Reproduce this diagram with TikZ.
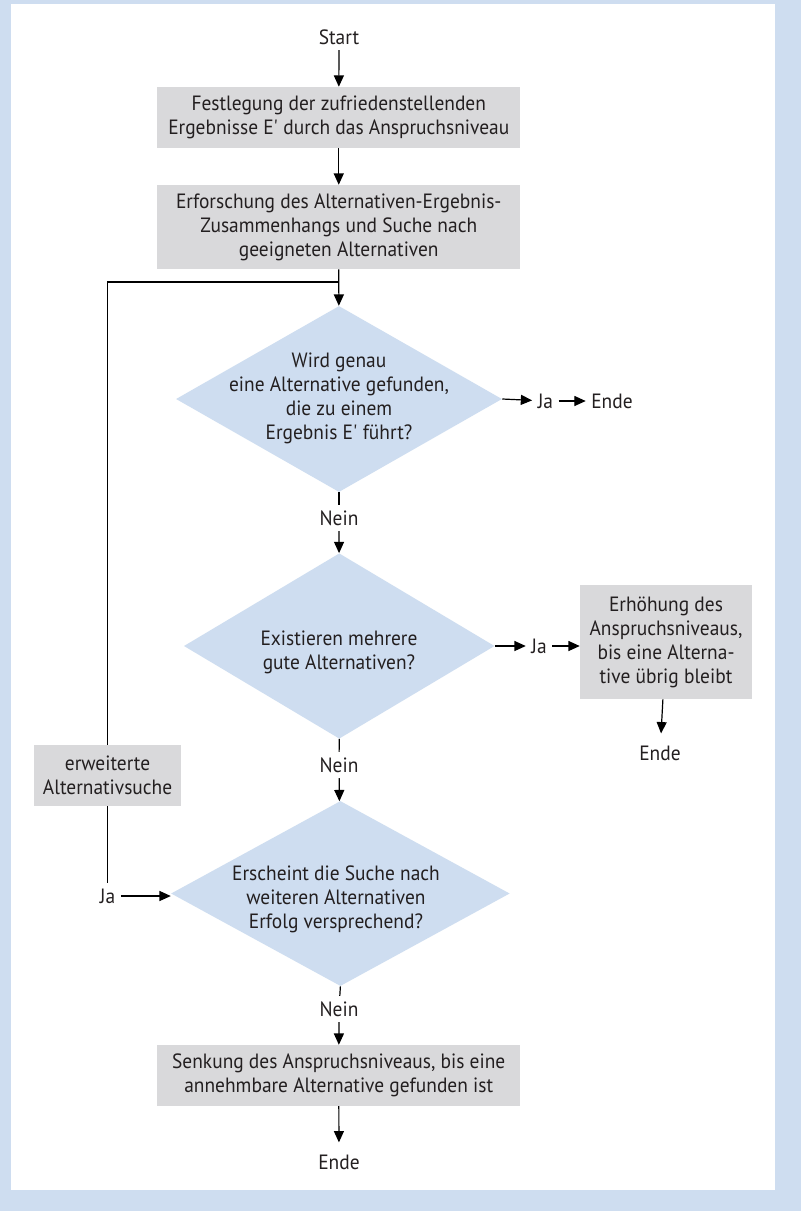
\documentclass[tikz,border=0pt]{standalone}
\usepackage{fontspec}
\setmainfont{PT Sans}[FakeStretch=0.94]
\usetikzlibrary{shapes.geometric,arrows.meta}
\definecolor{bluebg}{RGB}{206,221,240}
\definecolor{boxgray}{RGB}{217,217,219}
\definecolor{txt}{RGB}{35,31,32}
\newcommand{\apos}{\textquotesingle}
\begin{document}
\begin{tikzpicture}[x=0.75pt,y=-0.75pt,
  font=\fontsize{15.5}{18}\selectfont,
  every node/.style={text=txt},
  box/.style={fill=boxgray, inner sep=0pt, align=center},
  decision/.style={diamond, fill=bluebg, inner sep=0pt},
  qtext/.style={align=center, inner sep=0pt},
  lbl/.style={inner sep=4pt},
  ln/.style={line width=0.9pt},
  arr/.style={ln, -{Triangle[length=8.5pt,width=7.5pt]}}]
% background
\fill[bluebg] (0,0) rectangle (801,1211);
\fill[white] (11,3.5) rectangle (775,1190);
\useasboundingbox (0,0) rectangle (801,1211);
% nodes
\node[lbl] (start) at (339,37) {Start};
\node[box, minimum width=272.6pt, minimum height=45.75pt] (b1) at (338.75,117.5)
  {Festlegung der zufriedenstellenden\\Ergebnisse E\apos{} durch das Anspruchsniveau};
\node[box, minimum width=272.6pt, minimum height=63pt] (b2) at (338.75,227)
  {Erforschung des Alternativen-Ergebnis-\\Zusammenhangs und Suche nach\\geeigneten Alternativen};
\coordinate (j) at (339,282);
\node[decision, minimum width=244.5pt, minimum height=139.5pt] (d1) at (339,399) {};
\node[qtext] (d1t) at (339,398) {Wird genau\\eine Alternative gefunden,\\die zu einem\\Ergebnis E\apos{} führt?};
\node[lbl] (ja1) at (545.4,401) {Ja};
\node[lbl] (e1) at (612,401) {Ende};
\node[lbl] (nein1) at (339,518) {Nein};
\node[decision, minimum width=233pt, minimum height=139pt] (d2) at (339.25,646) {};
\node[qtext] (d2t) at (339,652.5) {Existieren mehrere\\gute Alternativen?};
\node[lbl] (ja2) at (539,646) {Ja};
\node[box, minimum width=129pt, minimum height=85.5pt] (b3) at (666,642)
  {Erhöhung des\\Anspruchsniveaus,\\bis eine Alterna-\\tive übrig bleibt};
\node[lbl] (e2) at (660,753) {Ende};
\node[lbl] (nein2) at (339,765) {Nein};
\node[box, minimum width=110.25pt, minimum height=45.5pt] (b4) at (107.6,775.4)
  {erweiterte\\Alternativsuche};
\node[decision, minimum width=254pt, minimum height=138.75pt] (d3) at (340.4,893.5) {};
\node[qtext] (d3t) at (336,899) {Erscheint die Suche nach\\weiteren Alternativen\\Erfolg versprechend?};
\node[lbl] (ja3) at (107.6,896) {Ja};
\node[lbl] (nein3) at (339,1009) {Nein};
\node[box, minimum width=272.6pt, minimum height=45.5pt] (b5) at (338.75,1075.4)
  {Senkung des Anspruchsniveaus, bis eine\\annehmbare Alternative gefunden ist};
\node[lbl] (e3) at (339,1162) {Ende};
% connectors
\draw[arr] (start) -- (b1);
\draw[arr] (b1) -- (b2);
\draw[arr] (b2) -- (d1);
\draw[ln] (b4.north) |- (j);
\draw[arr] (d1.east) -- (ja1);
\draw[arr] (ja1) -- (e1);
\draw[ln] (d1.south) -- (nein1);
\draw[arr] (nein1) -- (d2);
\draw[arr] (d2.east) -- (ja2);
\draw[arr] (ja2) -- (ja2 -| b3.west);
\draw[arr, shorten >=5pt] (b3) -- (e2);
\draw[ln] (d2.south) -- (nein2);
\draw[arr] (nein2) -- (d3);
\draw[ln] (b4.south) -- (ja3);
\draw[arr] (ja3) -- (ja3 -| d3.west);
\draw[ln] (d3.south) -- (nein3);
\draw[arr] (nein3) -- (b5);
\draw[arr, shorten >=5pt] (b5) -- (e3);
\end{tikzpicture}
\end{document}
